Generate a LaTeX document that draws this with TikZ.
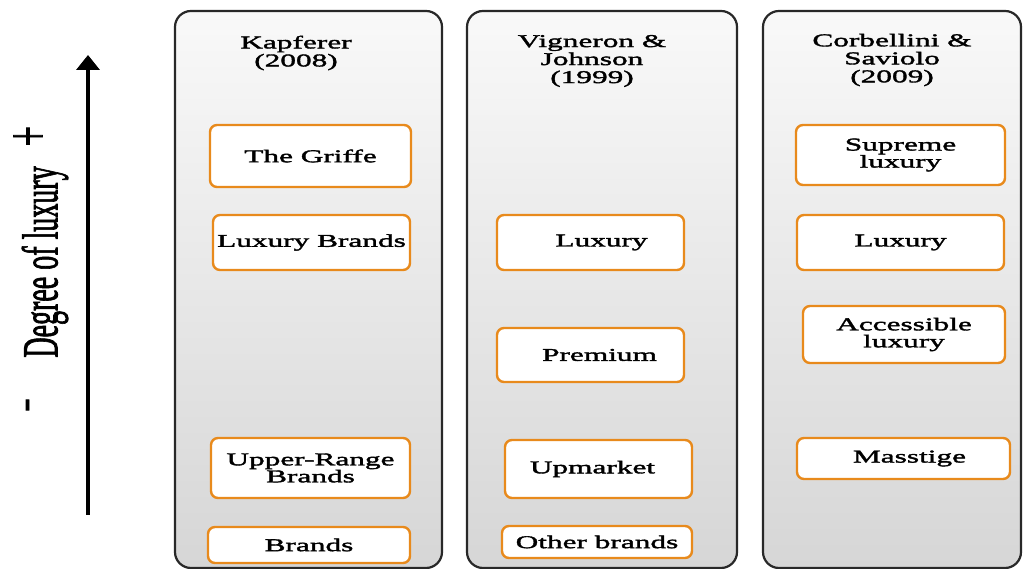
\documentclass[tikz,border=0pt]{standalone}
\usepackage{graphicx}
\usepackage{fontspec}
\setmainfont[FakeStretch=1.74,FakeBold=2]{Liberation Serif}
\newfontfamily\rotfont[FakeBold=2]{Liberation Serif}
\usetikzlibrary{arrows.meta}
\definecolor{boxorange}{RGB}{232,138,28}
\definecolor{colborder}{RGB}{40,40,40}
\definecolor{coltop}{RGB}{249,249,249}
\definecolor{colbot}{RGB}{214,214,214}
\tikzset{
  column/.style={draw=colborder, line width=2.2pt, rounded corners=16pt, top color=coltop, bottom color=colbot},
  levelbox/.style={draw=boxorange, line width=2.4pt, rounded corners=7pt, fill=white, inner sep=0pt, align=center, font=\fontsize{18}{17}\selectfont},
  coltitle/.style={align=center, inner sep=0pt, font=\fontsize{18}{18}\selectfont},
  axislabel/.style={rotate=90, inner sep=0pt, font=\fontsize{28}{28}\rotfont},
}
\begin{document}
\begin{tikzpicture}[x=1pt,y=1pt]
\useasboundingbox (0,0) rectangle (1024,569);
\clip (0,0) rectangle (1024,569);
\fill[white] (0,0) rectangle (1024,569);

% columns
\path[column] (175,1) rectangle (442,558);
\path[column] (467,1) rectangle (737,558);
\path[column] (763,1) rectangle (1021,558);

% axis
\coordinate (abot) at (88,54);
\coordinate (atop) at (88,514);
\draw[line width=3.5pt, -{Triangle[length=15pt,width=23pt]}] (abot) -- (atop);
\node[axislabel] (deg) at (45,307) {\scalebox{1}[1.8]{Degree of luxury}};
\node[inner sep=0pt, font=\fontsize{36}{36}\selectfont] (plus) at (28,431) {+};
\node[axislabel, font=\fontsize{20}{20}\rotfont\bfseries] (minus) at (31,164) {\scalebox{2}[1.8]{-}};

% titles
\node[coltitle] (t1) at (296,516) {Kapferer\\(2008)};
\node[coltitle] (t2) at (592,508) {Vigneron \&\\Johnson\\(1999)};
\node[coltitle] (t3) at (892,509) {Corbellini \&\\Saviolo\\(2009)};

% column 1
\node[levelbox, minimum width=201pt, minimum height=62pt] (k1) at (310.5,413) {The Griffe};
\node[levelbox, minimum width=197pt, minimum height=55pt] (k2) at (311.5,326.5) {Luxury Brands};
\node[levelbox, minimum width=199pt, minimum height=60pt] (k3) at (310.5,101) {Upper-Range\\Brands};
\node[levelbox, minimum width=202pt, minimum height=36pt] (k4) at (309,24) {Brands};

% column 2
\node[levelbox, minimum width=187pt, minimum height=55pt] (v1) at (590.5,326.5) {\hspace*{22pt}Luxury};
\node[levelbox, minimum width=187pt, minimum height=54pt] (v2) at (590.5,214) {\hspace*{18pt}Premium};
\node[levelbox, minimum width=187pt, minimum height=58pt] (v3) at (598.5,100) {Upmarket\hspace*{12pt}};
\node[levelbox, minimum width=190pt, minimum height=32pt] (v4) at (597,27) {Other brands};

% column 3
\node[levelbox, minimum width=209pt, minimum height=60pt] (c1) at (900.5,414) {Supreme\\luxury};
\node[levelbox, minimum width=207pt, minimum height=55pt] (c2) at (900.5,326.5) {Luxury};
\node[levelbox, minimum width=202pt, minimum height=57pt] (c3) at (904,234.5) {Accessible\\luxury};
\node[levelbox, minimum width=213pt, minimum height=41pt] (c4) at (903.5,110.5) {\hspace*{12pt}Masstige};
\end{tikzpicture}
\end{document}
